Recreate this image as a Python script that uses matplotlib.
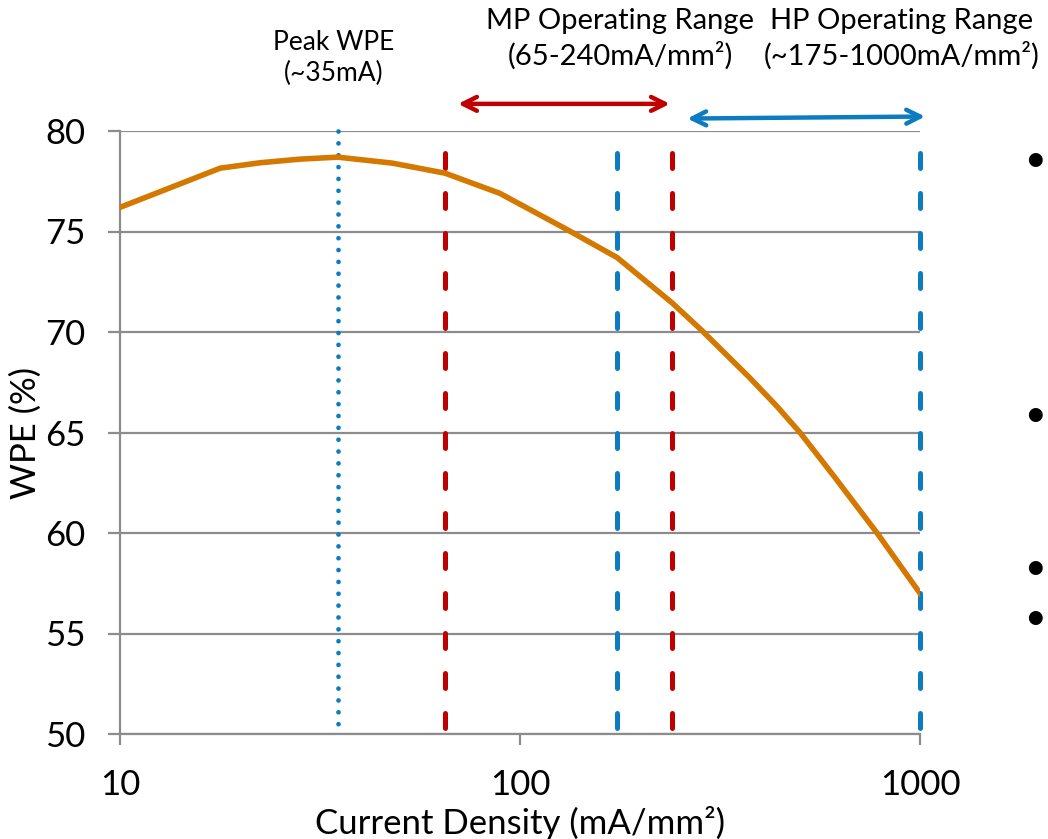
import matplotlib
matplotlib.use('Agg')
import matplotlib.pyplot as plt

plt.rcParams['font.family'] = ['Lato', 'DejaVu Sans']

# WPE curve
current = [10, 17.8, 22.4, 28.2, 35, 48, 65, 89, 131, 175, 240, 284, 374, 439, 501, 608, 781, 1000]
wpe = [76.2, 78.15, 78.42, 78.6, 78.7, 78.4, 77.9, 76.9, 75.1, 73.7, 71.45, 70.1, 67.75, 66.3,
       65.0, 62.85, 60.0, 57.0]

peak_x = 35
mp_range = [65, 240]
hp_range = [175, 1000]

orange = '#D47800'
blue = '#0C7CC0'
red = '#C00000'
grey = '#8C8C8C'

fig = plt.figure(figsize=(10.48, 8.39), dpi=100)
ax = fig.add_axes([120/1048, 1-734/839, 800/1048, 603/839])

ax.set_xscale('log')
ax.set_xlim(10, 1000)
ax.set_ylim(50, 80)
ax.set_yticks([50, 55, 60, 65, 70, 75, 80])
ax.set_xticks([10, 100, 1000])
ax.set_xticklabels(['10', '100', '1000'])
ax.minorticks_off()
ax.grid(axis='y', color=grey, lw=1.6)
ax.set_axisbelow(True)
for s in ['top', 'right']:
    ax.spines[s].set_visible(False)
for s in ['left', 'bottom']:
    ax.spines[s].set_color(grey)
    ax.spines[s].set_linewidth(1.6)
ax.tick_params(axis='y', length=9, width=1.6, color=grey, labelsize=25, pad=16)
ax.tick_params(axis='x', length=8, width=1.6, color=grey, labelsize=25, pad=17)

ax.plot(current, wpe, color=orange, lw=4, zorder=4)

ax.plot([peak_x, peak_x], [80, 50], color=blue, lw=3.4, linestyle=(0, (0.01, 2.5)),
        dash_capstyle='round', clip_on=False, zorder=3)
for x in mp_range:
    ax.plot([x, x], [78.9, 50], color=red, lw=3.6, linestyle=(0, (3, 5)),
            dash_capstyle='round', clip_on=False, zorder=3)
for x in hp_range:
    ax.plot([x, x], [78.9, 50], color=blue, lw=3.6, linestyle=(0, (3, 5)),
            dash_capstyle='round', clip_on=False, zorder=3)

ax.annotate('', xy=(237, 81.35), xytext=(70, 81.35), annotation_clip=False,
            arrowprops=dict(arrowstyle='<->', color=red, lw=3.2,
                            mutation_scale=25, shrinkA=0, shrinkB=0))
ax.annotate('', xy=(1030, 80.72), xytext=(262, 80.62), annotation_clip=False,
            arrowprops=dict(arrowstyle='<->', color=blue, lw=3.2,
                            mutation_scale=25, shrinkA=0, shrinkB=0))

fig.text(334/1048, 1-58/839, 'Peak WPE\n(~35mA)', ha='center', va='center',
         fontsize=19, linespacing=1.3)
fig.text(620/1048, 1-39/839, 'MP Operating Range\n(65-240mA/mm\u00b2)',
         ha='center', va='center', fontsize=21, linespacing=1.3)
fig.text(902/1048, 1-39/839, 'HP Operating Range\n(~175-1000mA/mm\u00b2)',
         ha='center', va='center', fontsize=21, linespacing=1.3)

ax.set_ylabel('WPE (%)', fontsize=25, labelpad=2)
ax.set_xlabel('Current Density (mA/mm\u00b2)', fontsize=25, labelpad=4)

for yb in [160, 415, 568, 618]:
    fig.text(1035/1048, 1-yb/839, '\u2022', ha='center', va='center', fontsize=27)

fig.savefig('out.png', dpi=100)
